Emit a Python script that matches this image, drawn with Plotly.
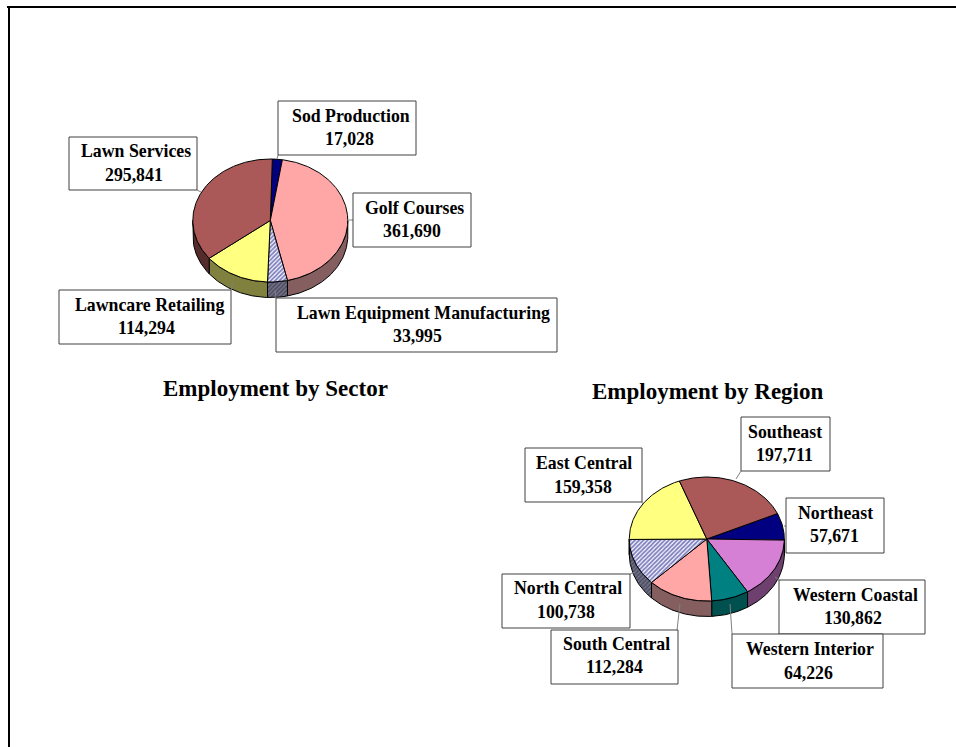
import math
import plotly.graph_objects as go

sector_names = ["Sod Production", "Golf Courses", "Lawn Equipment Manufacturing", "Lawncare Retailing", "Lawn Services"]
sector_values = [17028, 361690, 33995, 114294, 295841]
region_names = ["Northeast", "Western Coastal", "Western Interior", "South Central", "North Central", "East Central", "Southeast"]
region_values = [57671, 130862, 64226, 112284, 100738, 159358, 197711]

MAROON = ("#AB5858", "#552C2C")
PINK = ("#FFA6A6", "#855F5F")
YELLOW = ("#FFFF80", "#80803F")
NAVY = ("#000080", "#000040")
ORCHID = ("#D580D5", "#6E4070")
TEAL = ("#008080", "#005050")
HATCH = ("#FFFFFF", "#808090")

sector_colors = [NAVY, PINK, HATCH, YELLOW, MAROON]
region_colors = [NAVY, ORCHID, TEAL, PINK, HATCH, YELLOW, MAROON]

# layout: (centre x, centre y, radius x, radius y, depth, start angle)
sector_geom = (270.3, 220.5, 77.5, 61.5, 15.5, 1.5)
region_geom = (706.8, 539.0, 77.5, 62.0, 15.5, 65.8)

# layout: box (x0, y0, x1, y1), text centre name/value, leader line
sector_layout = [
    ((278, 101, 416, 155), 351, 349, 116, 139, (278, 155, 277, 159)),
    ((353, 193, 471, 247), 414, 412, 208, 231, (347, 220, 353, 220)),
    ((276, 298, 557, 352), 423, 417, 313, 336, (275, 290, 276, 298)),
    ((59, 290, 231, 344), 149, 146, 305, 328, (233, 283, 231, 290)),
    ((69, 137, 197, 190), 136, 134, 151, 175, (197, 190, 201, 192)),
]
region_layout = [
    ((786, 498, 884, 553), 835, 834, 513, 536, (784, 526, 786, 526)),
    ((779, 580, 925, 634), 855, 853, 595, 618, (775, 577, 779, 580)),
    ((732, 634, 883, 688), 810, 808, 649, 673, (730, 604, 732, 634)),
    ((551, 630, 678, 684), 616, 614, 644, 667, (680, 604, 677, 630)),
    ((502, 574, 630, 628), 568, 566, 588, 612, (635, 572, 630, 574)),
    ((525, 448, 642, 502), 584, 583, 463, 487, (642, 502, 643, 504)),
    ((741, 417, 830, 471), 785, 784, 432, 455, (736, 479, 741, 471)),
]

FONT = "Liberation Serif"
fig = go.Figure()
shapes, annotations = [], []


def pt(g, deg, dz=0.0):
    a = math.radians(deg)
    return g[0] + g[2] * math.sin(a), g[1] - g[3] * math.cos(a) + dz


def arc(g, a0, a1, dz=0.0):
    n = max(2, int(abs(a1 - a0)) + 2)
    return [pt(g, a0 + (a1 - a0) * i / (n - 1), dz) for i in range(n)]


def add_poly(points, color, name, hatched, side=False):
    kw = {}
    if hatched:
        kw["fillpattern"] = dict(
            shape="/", size=3, solidity=0.62,
            fgcolor="#202050" if side else "#000080",
            bgcolor="#7A7A84" if side else "#FFFFFF",
        )
    fig.add_trace(go.Scatter(
        x=[p[0] for p in points], y=[p[1] for p in points], mode="lines",
        fill="toself", fillcolor=color, line=dict(color="#000000", width=1),
        name=name, hoverinfo="name", showlegend=False, **kw,
    ))


def draw_pie(names, values, colors, g):
    total = sum(values)
    angles, a = [], g[5]
    for v in values:
        angles.append((a, a + v / total * 360))
        a += v / total * 360
    # front wall
    for (a0, a1), c, n in zip(angles, colors, names):
        for shift in (0, 360, -360):
            lo, hi = max(a0 + shift, 90), min(a1 + shift, 270)
            if hi > lo:
                pts = arc(g, lo, hi) + arc(g, hi, lo, g[4])
                add_poly(pts + pts[:1], c[1], n, c is HATCH, side=True)
    # top face
    for (a0, a1), c, n in zip(angles, colors, names):
        pts = [(g[0], g[1])] + arc(g, a0, a1) + [(g[0], g[1])]
        add_poly(pts, c[0], n, c is HATCH)


def draw_labels(names, values, layout):
    for name, v, (box, cx1, cx2, y1, y2, lead) in zip(names, values, layout):
        shapes.append(dict(type="line", x0=lead[0], y0=lead[1], x1=lead[2], y1=lead[3],
                           line=dict(color="#808080", width=1), layer="above"))
        shapes.append(dict(type="rect", x0=box[0], y0=box[1], x1=box[2], y1=box[3],
                           line=dict(color="#404040", width=1), fillcolor="#FFFFFF", layer="above"))
        for text, cx, cy in ((name, cx1, y1), (f"{v:,}", cx2, y2)):
            annotations.append(dict(text=f"<b>{text}</b>", x=cx, y=cy, xref="x", yref="y",
                                    showarrow=False, xanchor="center", yanchor="middle",
                                    font=dict(family=FONT, size=17.8, color="#000000")))


draw_pie(sector_names, sector_values, sector_colors, sector_geom)
draw_pie(region_names, region_values, region_colors, region_geom)
draw_labels(sector_names, sector_values, sector_layout)
draw_labels(region_names, region_values, region_layout)

for title, x, y in (("Employment by Sector", 275, 388), ("Employment by Region", 708, 391)):
    annotations.append(dict(text=f"<b>{title}</b>", x=x, y=y, xref="x", yref="y", showarrow=False,
                            xanchor="center", yanchor="middle",
                            font=dict(family=FONT, size=23, color="#000000")))

# page frame
shapes.append(dict(type="line", x0=7, y0=7, x1=956, y1=7, line=dict(color="#000000", width=2)))
shapes.append(dict(type="line", x0=9, y0=7, x1=9, y1=747, line=dict(color="#000000", width=2)))

fig.update_layout(
    width=956, height=747, margin=dict(l=0, r=0, t=0, b=0),
    paper_bgcolor="#FFFFFF", plot_bgcolor="#FFFFFF", showlegend=False,
    xaxis=dict(range=[0, 956], visible=False, fixedrange=True),
    yaxis=dict(range=[747, 0], visible=False, fixedrange=True),
    shapes=shapes, annotations=annotations,
)
fig.write_html("out.html", config=dict(displayModeBar=False),
               post_script="document.body.style.margin='0';document.documentElement.style.overflow='hidden';")
